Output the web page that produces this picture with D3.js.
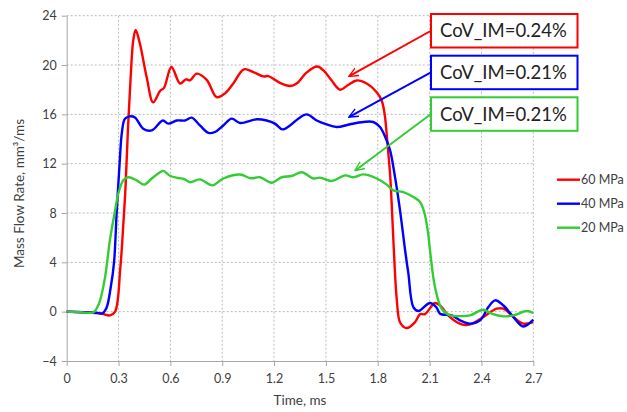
<!DOCTYPE html>
<html>
<head>
<meta charset="utf-8">
<script src="https://cdn.jsdelivr.net/npm/d3@7"></script>
<style>
  html, body { margin: 0; padding: 0; background: #fff; }
  svg { display: block; font-family: Lato, "Open Sans", sans-serif; }
</style>
</head>
<body>
<svg id="chart" width="627" height="412"></svg>
<script>
// Injection mass flow rate traces, [time (ms), rate (mm³/ms)]
const flow60 = [
  [0,0],[0.1,-0.05],[0.2,-0.15],[0.25,-0.3],[0.28,0],[0.31,3.5],[0.325,6.5],[0.34,10],
  [0.355,15],[0.37,19],[0.385,22],[0.399,22.85],[0.424,21.7],[0.463,19.0],[0.5,16.97],
  [0.54,17.9],[0.563,18.15],[0.606,19.84],[0.656,18.5],[0.69,18.84],[0.714,18.76],[0.752,19.3],
  [0.81,18.8],[0.868,17.4],[0.916,17.7],[0.964,18.5],[1.025,19.65],[1.08,19.43],[1.138,19.08],
  [1.167,19.1],[1.234,18.55],[1.292,18.3],[1.331,18.5],[1.389,19.4],[1.45,19.88],[1.49,19.5],
  [1.53,18.8],[1.582,18.0],[1.63,18.4],[1.678,18.75],[1.736,18.5],[1.794,17.8],[1.823,17.1],
  [1.84,16.0],[1.857,13.5],[1.872,11],[1.882,8.3],[1.893,5],[1.91,1.0],[1.93,-0.9],[1.968,-1.33],
  [2.016,-0.84],[2.045,-0.2],[2.073,-0.2],[2.131,0.7],[2.16,0.5],[2.218,-0.44],[2.286,-1.03],
  [2.334,-1.03],[2.411,-0.43],[2.488,0.24],[2.527,0.24],[2.585,-0.43],[2.642,-0.97],[2.7,-0.84]
];
const flow40 = [
  [0,0],[0.1,-0.05],[0.18,-0.1],[0.205,-0.15],[0.23,0.3],[0.255,2],[0.274,4],[0.289,8],
  [0.306,12],[0.32,14.6],[0.337,15.65],[0.366,15.84],[0.395,15.75],[0.443,14.84],[0.492,14.7],
  [0.556,15.5],[0.588,15.25],[0.637,15.5],[0.685,15.5],[0.723,15.73],[0.771,15.1],[0.82,14.5],
  [0.858,14.57],[0.906,15.1],[0.955,15.65],[1.003,15.3],[1.1,15.6],[1.157,15.5],[1.205,15.25],
  [1.248,14.78],[1.292,15.1],[1.34,15.65],[1.389,16.0],[1.447,15.5],[1.5,15.2],[1.562,14.97],
  [1.64,15.2],[1.717,15.38],[1.774,15.38],[1.813,14.97],[1.842,14.2],[1.871,13.1],[1.9,10.9],
  [1.929,8.2],[1.958,5.0],[1.977,3.1],[2.006,0.37],[2.035,0.05],[2.102,0.7],[2.141,0.32],
  [2.16,-0.16],[2.228,-0.3],[2.276,-0.7],[2.334,-0.97],[2.392,-0.7],[2.44,0.37],[2.479,0.92],
  [2.527,0.5],[2.585,-0.44],[2.642,-1.2],[2.7,-0.65]
];
const flow20 = [
  [0,0],[0.08,-0.05],[0.154,-0.05],[0.175,0.3],[0.193,0.9],[0.222,2.8],[0.25,5.8],[0.28,8.2],
  [0.299,9.6],[0.328,10.65],[0.357,10.9],[0.405,10.65],[0.448,10.3],[0.492,10.8],[0.54,11.3],
  [0.559,11.42],[0.6,11.0],[0.646,10.84],[0.68,10.75],[0.714,10.5],[0.771,10.73],[0.843,10.24],
  [0.906,10.8],[1.003,11.12],[1.065,10.82],[1.119,10.9],[1.186,10.45],[1.244,10.9],[1.302,11.0],
  [1.36,11.3],[1.427,10.8],[1.466,10.87],[1.534,10.6],[1.611,11.05],[1.659,10.9],[1.717,11.13],
  [1.794,10.8],[1.852,10.3],[1.89,9.84],[1.948,9.7],[2.006,9.3],[2.045,8.9],[2.07,8.0],
  [2.09,6.5],[2.102,5.0],[2.131,2.0],[2.17,0.24],[2.218,-0.3],[2.276,-0.36],[2.334,-0.3],
  [2.411,0.16],[2.459,-0.16],[2.527,-0.38],[2.585,-0.3],[2.662,0.05],[2.7,-0.11]
];

const seriesNames = ["60 MPa", "40 MPa", "20 MPa"];
const seriesColors = ["#ff0000", "#0000ff", "#33cc33"];
const seriesData = [flow60, flow40, flow20];

const covLabels = ["CoV_IM=0.24%", "CoV_IM=0.21%", "CoV_IM=0.21%"];
// point on each trace the callout arrow points at [time, rate]
const covTargets = [[1.635, 19.1], [1.635, 15.8], [1.67, 11.45]];

const xTicks = [0, 0.3, 0.6, 0.9, 1.2, 1.5, 1.8, 2.1, 2.4, 2.7];
const yTicks = [-4, 0, 4, 8, 12, 16, 20, 24];

const svg = d3.select("#chart");
const plot = { left: 66.7, right: 533.3, top: 15.7, bottom: 361 };

const x = d3.scaleLinear().domain([0, 2.7]).range([plot.left, plot.right]);
const y = d3.scaleLinear().domain([-4, 24]).range([plot.bottom, plot.top]);

// dotted grid
const grid = svg.append("g");
grid.selectAll("line.h").data(yTicks.filter(d => d > -4)).join("line")
  .attr("x1", plot.left).attr("x2", plot.right)
  .attr("y1", d => y(d)).attr("y2", d => y(d))
  .attr("stroke", "#b8b8b8").attr("stroke-width", 1).attr("stroke-dasharray", "2,2");
grid.selectAll("line.v").data(xTicks.filter(d => d > 0)).join("line")
  .attr("x1", d => x(d)).attr("x2", d => x(d))
  .attr("y1", plot.top).attr("y2", plot.bottom)
  .attr("stroke", "#b8b8b8").attr("stroke-width", 1).attr("stroke-dasharray", "2,2");

// axes
const xAxis = svg.append("g").attr("transform", `translate(0,${plot.bottom})`)
  .call(d3.axisBottom(x).tickValues(xTicks).tickFormat(d3.format("")).tickSizeInner(5).tickSizeOuter(0));
const yAxis = svg.append("g").attr("transform", `translate(${plot.left},0)`)
  .call(d3.axisLeft(y).tickValues(yTicks).tickSizeInner(5).tickSizeOuter(0));
[xAxis, yAxis].forEach(a => {
  a.select(".domain").attr("stroke", "#a6a6a6");
  a.selectAll(".tick line").attr("stroke", "#a6a6a6");
  a.selectAll(".tick text").attr("fill", "#404040")
    .style("font-size", "12.5px").style("font-family", "Lato, sans-serif");
});
xAxis.selectAll(".tick text").attr("dy", "0.71em").attr("y", 13);
yAxis.selectAll(".tick text").attr("x", -10);

// axis titles
svg.append("text").attr("x", x(1.35)).attr("y", 405)
  .attr("text-anchor", "middle").attr("fill", "#404040")
  .style("font-size", "13.5px").text("Time, ms");
svg.append("text").attr("transform", "translate(24,193.5) rotate(-90)")
  .attr("text-anchor", "middle").attr("fill", "#404040")
  .style("font-size", "13.5px").text("Mass Flow Rate, mm³/ms");

// traces
const line = d3.line().x(d => x(d[0])).y(d => y(d[1])).curve(d3.curveCatmullRom.alpha(0.5));
svg.append("g").selectAll("path").data(seriesData).join("path")
  .attr("d", d => line(d))
  .attr("fill", "none")
  .attr("stroke", (d, i) => seriesColors[i])
  .attr("stroke-width", 2.4)
  .attr("stroke-linejoin", "round");

// legend
const legend = svg.append("g");
seriesNames.forEach((name, i) => {
  const ly = 179.7 + i * 24;
  legend.append("line").attr("x1", 557).attr("x2", 580).attr("y1", ly).attr("y2", ly)
    .attr("stroke", seriesColors[i]).attr("stroke-width", 2.4);
  legend.append("text").attr("x", 581).attr("y", ly).attr("dy", "0.35em")
    .attr("fill", "#404040").style("font-size", "12.5px").text(name);
});

// CoV callouts with arrows
const defs = svg.append("defs");
seriesColors.forEach((c, i) => {
  defs.append("marker").attr("id", "arrow" + i)
    .attr("viewBox", "0 0 10 10").attr("refX", 9).attr("refY", 5)
    .attr("markerWidth", 5).attr("markerHeight", 5).attr("orient", "auto")
    .attr("markerUnits", "strokeWidth")
    .append("path").attr("d", "M0,0.8 L9.5,5 L0,9.2")
    .attr("fill", "none").attr("stroke", c).attr("stroke-width", 1.4);
});
const box = { x: 431, w: 146.5, h: 33.5, tops: [14, 55.7, 97.3] };
covLabels.forEach((label, i) => {
  const top = box.tops[i];
  const t = covTargets[i];
  svg.append("line")
    .attr("x1", box.x).attr("y1", top + box.h / 2)
    .attr("x2", x(t[0])).attr("y2", y(t[1]))
    .attr("stroke", seriesColors[i]).attr("stroke-width", 2)
    .attr("marker-end", `url(#arrow${i})`);
  svg.append("rect").attr("x", box.x).attr("y", top).attr("width", box.w).attr("height", box.h)
    .attr("fill", "#fff").attr("stroke", seriesColors[i]).attr("stroke-width", 2);
  svg.append("text").attr("x", box.x + 9).attr("y", top + box.h / 2).attr("dy", "0.36em")
    .attr("fill", "#222").style("font-size", "18.5px").text(label);
});
</script>
</body>
</html>
